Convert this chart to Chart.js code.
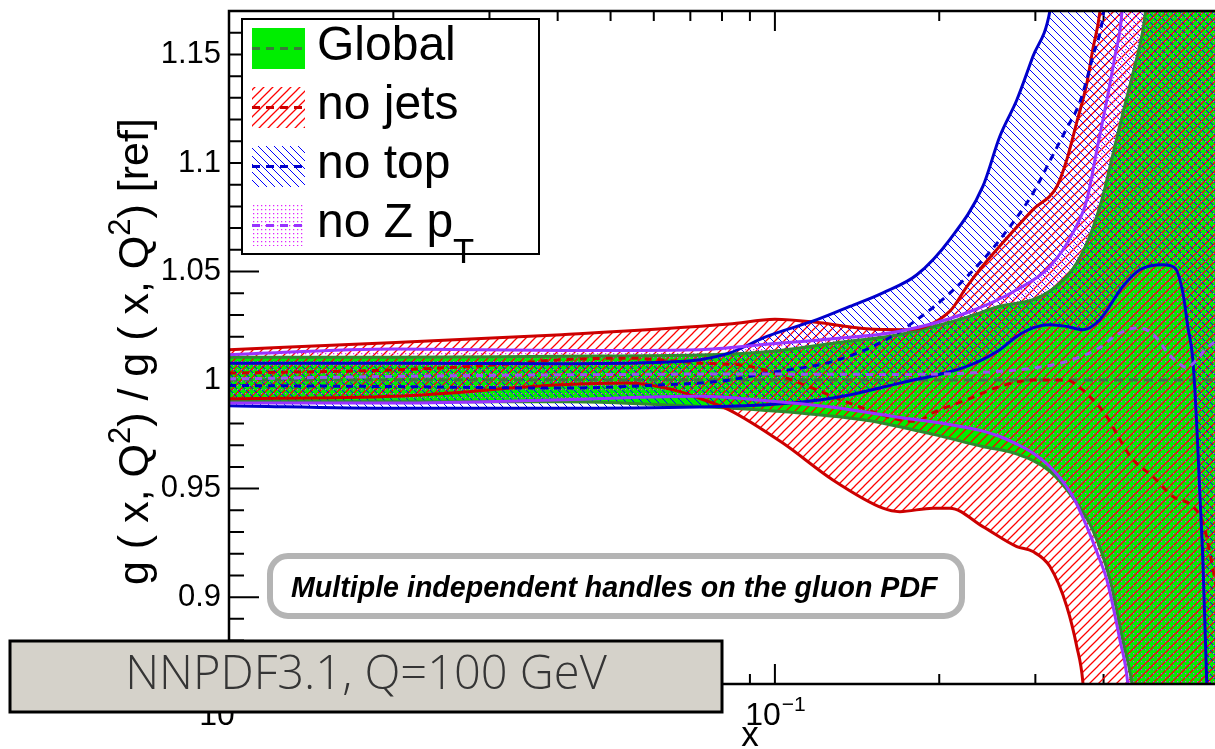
<!DOCTYPE html>
<html>
<head>
<meta charset="utf-8">
<title>Gluon ratio</title>
<script src="https://cdn.jsdelivr.net/npm/chart.js@4.4.1/dist/chart.umd.min.js"></script>
<style>
  html, body { margin: 0; padding: 0; background: #fff; overflow: hidden; }
  #wrap { position: relative; width: 1215px; height: 749px; }
</style>
</head>
<body>
<div id="wrap"><canvas id="gluonChart" width="1215" height="749"></canvas></div>
<script>
// x = momentum fraction, y = g(x,Q^2) / g(x,Q^2)[ref]
const globalLowX = [0.01, 0.0202, 0.0407, 0.0729, 0.111, 0.147, 0.195, 0.240, 0.277, 0.319, 0.351, 0.382, 0.411, 0.434, 0.451, 0.48, 0.7];
const globalLowY = [0.9901, 0.9900, 0.9900, 0.9878, 0.9848, 0.9815, 0.9750, 0.9694, 0.9660, 0.9580, 0.9460, 0.9310, 0.9080, 0.8800, 0.8600, 0.80, 0.75];
const globalUpX = [0.01, 0.0202, 0.0407, 0.0729, 0.0967, 0.128, 0.169, 0.225, 0.258, 0.297, 0.319, 0.351, 0.377, 0.399, 0.416, 0.434, 0.453, 0.472, 0.49, 0.7];
const globalUpY = [1.0105, 1.0105, 1.0110, 1.0115, 1.0130, 1.0170, 1.0210, 1.0290, 1.0340, 1.0370, 1.0410, 1.0510, 1.0660, 1.0850, 1.1040, 1.1230, 1.1415, 1.1610, 1.19, 1.3];
const globalMidX = [0.01, 0.7];
const globalMidY = [1.0, 1.0];

const jetsLowX = [0.01, 0.0202, 0.0407, 0.054, 0.0667, 0.0729, 0.0824, 0.1034, 0.1277, 0.1577, 0.1694, 0.1948, 0.2091, 0.2404, 0.2774, 0.2969, 0.319, 0.3425, 0.3573, 0.3665, 0.38, 0.7];
const jetsLowY = [0.9914, 0.9925, 0.9978, 0.9986, 0.9948, 0.9915, 0.9863, 0.9710, 0.9540, 0.9410, 0.9394, 0.9410, 0.9410, 0.9325, 0.9233, 0.9210, 0.9141, 0.8957, 0.8772, 0.8610, 0.80, 0.75];
const jetsUpX = [0.01, 0.0202, 0.0407, 0.0824, 0.1, 0.119, 0.147, 0.1745, 0.209, 0.2247, 0.240, 0.258, 0.297, 0.3285, 0.3425, 0.357, 0.373, 0.382, 0.394, 0.42, 0.7];
const jetsUpY = [1.0140, 1.0173, 1.0209, 1.0258, 1.0280, 1.0266, 1.0236, 1.0232, 1.0316, 1.0430, 1.0524, 1.0616, 1.0785, 1.0892, 1.1015, 1.1185, 1.1370, 1.1520, 1.1700, 1.25, 1.3];
const jetsMidX = [0.01, 0.0202, 0.0308, 0.0407, 0.054, 0.0667, 0.0729, 0.09, 0.111, 0.137, 0.169, 0.182, 0.195, 0.225, 0.258, 0.297, 0.3425, 0.3619, 0.3774, 0.4056, 0.4284, 0.4525, 0.4923, 0.5357, 0.5829, 0.608, 0.626, 0.7];
const jetsMidY = [1.0032, 1.0047, 1.0070, 1.0094, 1.0101, 1.0086, 1.0078, 1.0063, 0.9986, 0.9894, 0.9817, 0.9810, 0.9850, 0.9910, 0.9970, 1.0000, 1.0000, 0.9965, 0.9924, 0.9832, 0.9726, 0.9634, 0.9556, 0.9464, 0.9418, 0.9344, 0.9206, 0.85];

const topLowX = [0.01, 0.0202, 0.0407, 0.0729, 0.0967, 0.1277, 0.1694, 0.2247, 0.2583, 0.2774, 0.2969, 0.319, 0.3425, 0.3665, 0.3937, 0.4338, 0.4661, 0.5135, 0.5403, 0.5589, 0.5707, 0.5829, 0.5928, 0.6003, 0.608, 0.6182, 0.63, 0.7];
const topLowY = [0.9882, 0.9870, 0.9870, 0.9876, 0.9886, 0.9917, 0.9986, 1.0063, 1.0140, 1.0201, 1.0240, 1.0255, 1.0247, 1.0232, 1.0278, 1.0431, 1.0508, 1.0531, 1.0517, 1.0402, 1.0246, 1.0094, 0.9786, 0.9480, 0.9172, 0.8600, 0.80, 0.75];
const topUpX = [0.01, 0.0202, 0.0407, 0.0667, 0.0729, 0.0824, 0.0967, 0.1194, 0.1372, 0.1577, 0.182, 0.2091, 0.2404, 0.2583, 0.2774, 0.2969, 0.319, 0.35, 0.7];
const topUpY = [1.0078, 1.0078, 1.0075, 1.0085, 1.0094, 1.0124, 1.0201, 1.0278, 1.0339, 1.0402, 1.0485, 1.0647, 1.0892, 1.1123, 1.1290, 1.1490, 1.1700, 1.25, 1.3];
const topMidX = [0.01, 0.0202, 0.0407, 0.0621, 0.079, 0.0967, 0.1277, 0.1577, 0.182, 0.2091, 0.2404, 0.2583, 0.2969, 0.319, 0.3425, 0.3619, 0.3823, 0.3987, 0.45, 0.7];
const topMidY = [0.9975, 0.9970, 0.9963, 0.9978, 0.9994, 1.0032, 1.0086, 1.0178, 1.0278, 1.0400, 1.0554, 1.0647, 1.0860, 1.1010, 1.1160, 1.1280, 1.1490, 1.1670, 1.3, 1.35];

const zptLowX = [0.01, 0.0202, 0.0407, 0.0729, 0.0967, 0.1277, 0.1694, 0.2091, 0.2404, 0.2583, 0.2774, 0.2969, 0.323, 0.3514, 0.3727, 0.3937, 0.4056, 0.4284, 0.4431, 0.46, 0.7];
const zptLowY = [0.9894, 0.9894, 0.9909, 0.9925, 0.9905, 0.9875, 0.9828, 0.9795, 0.9765, 0.9740, 0.9705, 0.9664, 0.9587, 0.9464, 0.9325, 0.9172, 0.9080, 0.8804, 0.8600, 0.80, 0.75];
const zptUpX = [0.01, 0.0202, 0.0407, 0.0729, 0.0967, 0.1277, 0.1694, 0.2247, 0.2774, 0.319, 0.3514, 0.3727, 0.3888, 0.4056, 0.4195, 0.432, 0.45, 0.7];
const zptUpY = [1.0117, 1.0143, 1.0136, 1.0140, 1.0165, 1.0190, 1.0225, 1.0310, 1.0416, 1.0523, 1.0678, 1.0830, 1.1060, 1.1290, 1.1490, 1.1690, 1.25, 1.3];
const zptMidX = [0.01, 0.0202, 0.0407, 0.0824, 0.169, 0.2247, 0.2969, 0.3425, 0.3937, 0.4231, 0.4603, 0.4861, 0.507, 0.5222, 0.5449, 0.5683, 0.5928, 0.6182, 0.7];
const zptMidY = [1.0005, 1.0017, 1.0024, 1.0028, 1.0026, 1.0032, 1.0055, 1.0086, 1.0150, 1.0209, 1.0240, 1.0223, 1.0177, 1.0130, 1.0085, 1.0057, 1.0094, 1.0149, 1.022];

// axis ticks and labels
const yLabelValues = [0.9, 0.95, 1, 1.05, 1.1, 1.15];
const yLabelText = ["0.9", "0.95", "1", "1.05", "1.1", "1.15"];
const xMajorTicks = [0.01, 0.1];
const xMajorExp = ["\u22122", "\u22121"];
const xMinorTicks = [0.02, 0.03, 0.04, 0.05, 0.06, 0.07, 0.08, 0.09, 0.2, 0.3, 0.4, 0.5, 0.6];

const GREEN_FILL = "#00ee00";
const GREEN_LINE = "#2e8b2e";
const GREEN_DASH = "#3a7a3a";
const RED_LINE = "#cc0000";
const BLUE_LINE = "#0000cc";
const PURPLE_LINE = "#9933ff";
const FONT = '"Liberation Sans", Arial, Helvetica, sans-serif';

// hatch tiles, like ROOT fill styles 3004 / 3005
function hatch(color, rising, period, width) {
    const c = document.createElement("canvas");
    c.width = c.height = period;
    const g = c.getContext("2d");
    g.strokeStyle = color;
    g.lineWidth = width;
    g.lineCap = "square";
    g.beginPath();
    for (let k = -1; k <= 1; k++) {
        const o = k * period;
        if (rising) {
            g.moveTo(o - 1, period + 1); g.lineTo(o + period + 1, -1);
        } else {
            g.moveTo(o - 1, -1); g.lineTo(o + period + 1, period + 1);
        }
    }
    g.stroke();
    return g.createPattern(c, "repeat");
}

function dots(color) {
    const c = document.createElement("canvas");
    c.width = c.height = 4;
    const g = c.getContext("2d");
    g.fillStyle = color;
    g.fillRect(1, 1, 1.25, 1.25);
    return g.createPattern(c, "repeat");
}

const redHatch = hatch("#ff0000", true, 9, 1.25);
const blueHatch = hatch("#0000ff", false, 8, 1.0);
const zptDots = dots("#e022ff");

function pts(xs, ys) {
    return xs.map((v, i) => ({ x: v, y: ys[i] }));
}

function edge(xs, ys, color, order, extra) {
    return Object.assign({
        data: pts(xs, ys),
        borderColor: color,
        borderWidth: 3,
        pointRadius: 0,
        fill: false,
        cubicInterpolationMode: "monotone",
        order: order
    }, extra || {});
}

// superscript / subscript helper for canvas text
function richText(ctx, parts, x, y, size) {
    let cx = x;
    parts.forEach(p => {
        const s = p.sup || p.sub ? size * 0.72 : size;
        ctx.font = s + "px " + FONT;
        const dy = p.sup ? -size * 0.42 : (p.sub ? size * 0.54 : 0);
        ctx.fillText(p.t, cx, y + dy);
        cx += ctx.measureText(p.t).width;
    });
}

function roundRect(ctx, x, y, w, h, r) {
    ctx.beginPath();
    ctx.moveTo(x + r, y);
    ctx.arcTo(x + w, y, x + w, y + h, r);
    ctx.arcTo(x + w, y + h, x, y + h, r);
    ctx.arcTo(x, y + h, x, y, r);
    ctx.arcTo(x, y, x + w, y, r);
    ctx.closePath();
}

const rootFrame = {
    id: "rootFrame",
    beforeDraw(chart) {
        const { ctx, chartArea: a, scales } = chart;
        ctx.save();
        ctx.fillStyle = "#fff";
        ctx.fillRect(0, 0, chart.width, chart.height);
        ctx.strokeStyle = "#000";
        ctx.lineWidth = 2;
        ctx.beginPath();
        for (let k = 87; k <= 117; k++) {
            const py = scales.y.getPixelForValue(k / 100);
            const len = k % 5 === 0 ? 30 : 15;
            ctx.moveTo(a.left, py);
            ctx.lineTo(a.left + len, py);
        }
        const xt = xMinorTicks.map(v => [v, 10]).concat(xMajorTicks.map(v => [v, 20]));
        xt.forEach(([v, len]) => {
            const px = scales.x.getPixelForValue(v);
            ctx.moveTo(px, a.bottom); ctx.lineTo(px, a.bottom - len);
            ctx.moveTo(px, a.top); ctx.lineTo(px, a.top + len);
        });
        ctx.stroke();
        ctx.restore();
    },
    afterDatasetsDraw(chart) {
        const { ctx, chartArea: a } = chart;
        ctx.save();
        ctx.strokeStyle = "#000";
        ctx.lineWidth = 2.5;
        ctx.beginPath();
        ctx.moveTo(a.left, a.bottom);
        ctx.lineTo(a.left, a.top);
        ctx.lineTo(a.right, a.top);
        ctx.moveTo(a.left, a.bottom);
        ctx.lineTo(a.right, a.bottom);
        ctx.stroke();
        ctx.restore();
    },
    afterDraw(chart) {
        const { ctx, scales } = chart;
        ctx.save();
        ctx.fillStyle = "#000";

        // y tick labels
        ctx.font = "31px " + FONT;
        ctx.textAlign = "right";
        ctx.textBaseline = "middle";
        yLabelValues.forEach((v, i) => {
            ctx.fillText(yLabelText[i], 221, scales.y.getPixelForValue(v));
        });

        // x tick labels 10^n
        ctx.textAlign = "left";
        ctx.textBaseline = "alphabetic";
        xMajorTicks.forEach((v, i) => {
            const px = scales.x.getPixelForValue(v);
            ctx.font = "32px " + FONT;
            const w1 = ctx.measureText("10").width;
            ctx.font = "21px " + FONT;
            const w2 = ctx.measureText(xMajorExp[i]).width;
            const x0 = px - (w1 + w2) / 2;
            ctx.font = "32px " + FONT;
            ctx.fillText("10", x0, 725);
            ctx.font = "21px " + FONT;
            ctx.fillText(xMajorExp[i], x0 + w1 + 1, 711);
        });

        // axis titles
        ctx.font = "35px " + FONT;
        ctx.textAlign = "center";
        ctx.fillText("x", 750, 746);
        ctx.textAlign = "left";
        ctx.save();
        ctx.translate(148, 585);
        ctx.rotate(-Math.PI / 2);
        richText(ctx, [
            { t: "g ( x, Q" }, { t: "2", sup: true }, { t: ") / g ( x, Q" }, { t: "2", sup: true }, { t: ") [ref]" }
        ], 0, 0, 43);
        ctx.restore();

        // legend
        ctx.fillStyle = "#fff";
        ctx.fillRect(242, 19, 297, 235);
        ctx.strokeStyle = "#000";
        ctx.lineWidth = 2;
        ctx.strokeRect(242, 19, 297, 235);
        const rows = [
            { fill: GREEN_FILL, line: GREEN_DASH, text: [{ t: "Global" }] },
            { fill: redHatch, line: RED_LINE, text: [{ t: "no jets" }] },
            { fill: blueHatch, line: BLUE_LINE, text: [{ t: "no top" }] },
            { fill: zptDots, line: PURPLE_LINE, text: [{ t: "no Z p" }, { t: "T", sub: true }] }
        ];
        rows.forEach((r, i) => {
            const top = 28 + i * 59;
            ctx.fillStyle = r.fill;
            ctx.fillRect(252, top, 53, 41);
            ctx.strokeStyle = r.line;
            ctx.lineWidth = 3;
            ctx.setLineDash([8, 6]);
            ctx.beginPath();
            ctx.moveTo(252, top + 20.5);
            ctx.lineTo(305, top + 20.5);
            ctx.stroke();
            ctx.setLineDash([]);
            ctx.fillStyle = "#000";
            richText(ctx, r.text, 317, top + 32, 48);
        });

        // annotation box
        ctx.fillStyle = "#fff";
        ctx.strokeStyle = "#b4b4b4";
        ctx.lineWidth = 6;
        roundRect(ctx, 270, 556, 692, 60, 18);
        ctx.fill();
        ctx.stroke();
        ctx.fillStyle = "#000";
        ctx.font = "italic bold 28.6px " + FONT;
        ctx.fillText("Multiple independent handles on the gluon PDF", 291, 597);

        // fit label box
        ctx.fillStyle = "#d5d2ca";
        ctx.fillRect(10, 641, 712, 71);
        ctx.strokeStyle = "#000";
        ctx.lineWidth = 3;
        ctx.strokeRect(10, 641, 712, 71);
        ctx.fillStyle = "#353535";
        ctx.font = '300 47px "Open Sans", "Noto Sans", sans-serif';
        ctx.textAlign = "center";
        ctx.fillText("NNPDF3.1, Q=100 GeV", 366, 689);
        ctx.restore();
    }
};

const ctx = document.getElementById("gluonChart");
new Chart(ctx, {
    type: "line",
    data: {
        datasets: [
            // 0-2: no Z pT
            edge(zptLowX, zptLowY, PURPLE_LINE, 1),
            edge(zptUpX, zptUpY, PURPLE_LINE, 1, { fill: { target: 0 }, backgroundColor: zptDots }),
            edge(zptMidX, zptMidY, "#9955ee", 1, { borderDash: [7, 6] }),
            // 3-5: no top
            edge(topLowX, topLowY, BLUE_LINE, 2),
            edge(topUpX, topUpY, BLUE_LINE, 2, { fill: { target: 3 }, backgroundColor: blueHatch }),
            edge(topMidX, topMidY, BLUE_LINE, 2, { borderDash: [7, 6] }),
            // 6-8: no jets
            edge(jetsLowX, jetsLowY, RED_LINE, 3),
            edge(jetsUpX, jetsUpY, RED_LINE, 3, { fill: { target: 6 }, backgroundColor: redHatch }),
            edge(jetsMidX, jetsMidY, RED_LINE, 3, { borderDash: [7, 6] }),
            // 9-11: global
            edge(globalLowX, globalLowY, GREEN_LINE, 4),
            edge(globalUpX, globalUpY, GREEN_LINE, 4, { fill: { target: 9 }, backgroundColor: GREEN_FILL }),
            edge(globalMidX, globalMidY, GREEN_DASH, 4, { borderDash: [9, 6] })
        ]
    },
    options: {
        responsive: false,
        devicePixelRatio: 1,
        animation: false,
        layout: { padding: { left: 229, right: 0, top: 11, bottom: 65 } },
        scales: {
            x: { type: "logarithmic", min: 0.01, max: 0.64, bounds: "data", display: false },
            y: { type: "linear", min: 0.86, max: 1.17, bounds: "data", display: false }
        },
        plugins: {
            legend: { display: false },
            tooltip: { enabled: false },
            filler: { propagate: false, drawTime: "beforeDatasetsDraw" }
        }
    },
    plugins: [rootFrame]
});
</script>
</body>
</html>
